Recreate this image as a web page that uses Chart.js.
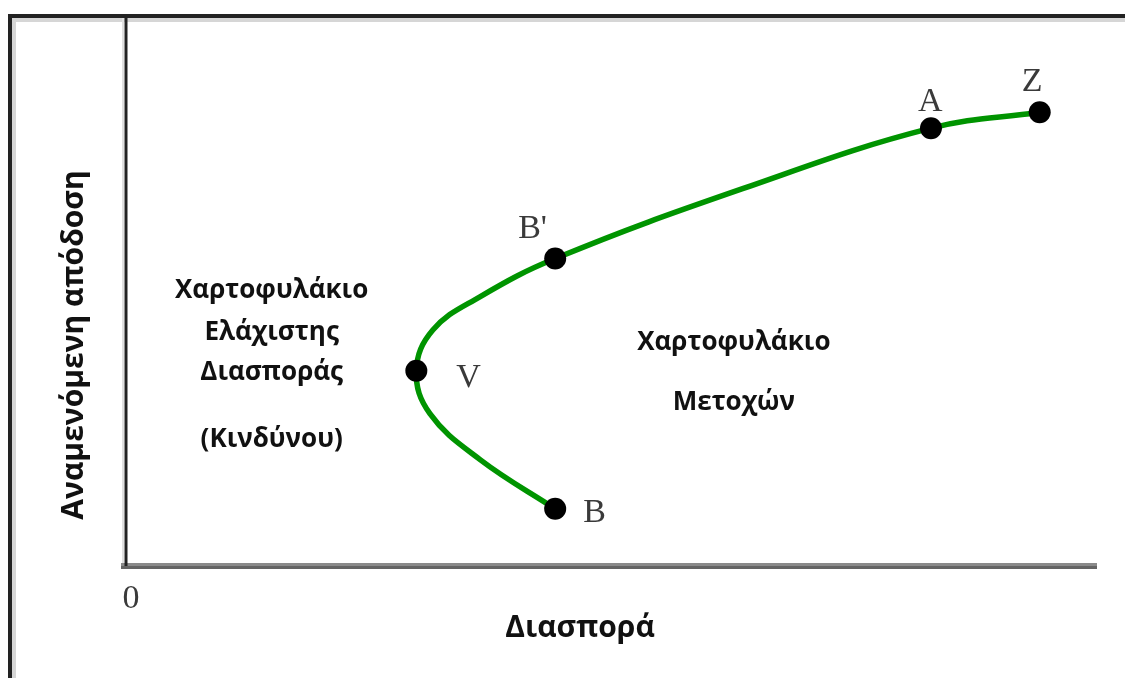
<!DOCTYPE html>
<html>
<head>
<meta charset="utf-8">
<script src="https://cdn.jsdelivr.net/npm/chart.js@4.4.1/dist/chart.umd.min.js"></script>
<style>
  html, body { margin: 0; padding: 0; background: #ffffff; }
  #wrap { width: 1125px; height: 678px; position: relative; }
</style>
</head>
<body>
<div id="wrap"><canvas id="c" width="1125" height="678"></canvas></div>
<script>
// ---- Data (variance on x, expected return on y; arbitrary units) ----
const pointNames   = ['B', 'V', "B'", 'A', 'Z'];
const pointVar     = [44.2, 29.9, 44.2, 82.9, 94.1];
const pointReturn  = [10.4, 35.5, 55.9, 79.6, 82.5];

// readings along the green frontier curve, from B up to Z
const curveVar    = [44.2, 36.5, 31.3, 29.9, 31.6, 36.4, 44.2, 63.5, 82.9, 94.1];
const curveReturn = [10.4, 19.3, 27.7, 35.5, 42.9, 48.9, 55.9, 68.6, 79.6, 82.5];

const xTickLabels = ['0'];
const xTitle = 'Διασπορά';
const yTitle = 'Αναμενόμενη απόδοση';
const leftNote  = ['Χαρτοφυλάκιο', 'Ελάχιστης', 'Διασποράς', '(Κινδύνου)'];
const rightNote = ['Χαρτοφυλάκιο', 'Μετοχών'];

// ---- Presentation settings ----
const leftNoteAnchor  = { x: 15.0, baselines: [48.7, 41.1, 33.8, 21.6] };
const rightNoteAnchor = { x: 62.6, baselines: [39.3, 28.4] };
const labelOffsets = [[28, 13], [40, 16], [-37, -21], [-13, -17], [-18, -21]];

const curvePoints  = curveVar.map((v, i) => ({ x: v, y: curveReturn[i] }));
const markerPoints = pointVar.map((v, i) => ({ x: v, y: pointReturn[i] }));

const decorPlugin = {
  id: 'decor',
  beforeDatasetsDraw(chart) {
    const ctx = chart.ctx;
    const ca = chart.chartArea;
    ctx.save();
    // outer frame (left and top)
    ctx.fillStyle = '#d6d6d6';
    ctx.fillRect(12, 18, 4, 660);
    ctx.fillRect(12, 18, 1113, 4);
    ctx.fillStyle = '#222222';
    ctx.fillRect(8, 14, 4, 664);
    ctx.fillRect(8, 14, 1117, 4);
    // x axis (gray, thick)
    ctx.fillStyle = '#8a8a8a';
    ctx.fillRect(ca.left - 5, ca.bottom - 3, ca.right - ca.left + 5, 3);
    ctx.fillStyle = '#646464';
    ctx.fillRect(ca.left - 5, ca.bottom, ca.right - ca.left + 5, 3);
    // y axis (dark)
    ctx.fillStyle = '#e0e0e0';
    ctx.fillRect(ca.left - 4, 18, 2, ca.bottom - 21);
    ctx.fillStyle = '#222222';
    ctx.fillRect(ca.left - 1.5, 14, 3, ca.bottom - 14);
    ctx.restore();
  },
  afterDraw(chart) {
    const ctx = chart.ctx;
    const xs = chart.scales.x, ys = chart.scales.y;
    ctx.save();
    // point labels (serif)
    ctx.fillStyle = '#3a3a3a';
    ctx.font = '34px "Liberation Serif", "DejaVu Serif", serif';
    ctx.textAlign = 'left';
    ctx.textBaseline = 'alphabetic';
    pointNames.forEach((name, i) => {
      const px = xs.getPixelForValue(pointVar[i]);
      const py = ys.getPixelForValue(pointReturn[i]);
      ctx.fillText(name, px + labelOffsets[i][0], py + labelOffsets[i][1]);
    });
    // x tick label "0"
    ctx.textAlign = 'center';
    xTickLabels.forEach((t) => {
      ctx.fillText(t, xs.getPixelForValue(Number(t)) + 5, chart.chartArea.bottom + 42);
    });
    // annotations
    ctx.fillStyle = '#111111';
    ctx.font = 'bold 26px "Open Sans", "Noto Sans", sans-serif';
    ctx.textAlign = 'center';
    leftNote.forEach((t, i) => {
      ctx.fillText(t, xs.getPixelForValue(leftNoteAnchor.x), ys.getPixelForValue(leftNoteAnchor.baselines[i]));
    });
    rightNote.forEach((t, i) => {
      ctx.fillText(t, xs.getPixelForValue(rightNoteAnchor.x), ys.getPixelForValue(rightNoteAnchor.baselines[i]));
    });
    // axis titles
    ctx.font = 'bold 30px "Open Sans", "Noto Sans", sans-serif';
    ctx.fillText(xTitle, 580, 637);
    ctx.translate(83, 345);
    ctx.rotate(-Math.PI / 2);
    ctx.fillText(yTitle, 0, 0);
    ctx.restore();
  }
};

new Chart(document.getElementById('c'), {
  type: 'scatter',
  data: {
    datasets: [
      {
        label: 'portfolios',
        data: markerPoints,
        pointRadius: 11,
        pointHoverRadius: 11,
        pointBackgroundColor: '#000000',
        pointBorderColor: '#000000',
        pointBorderWidth: 0,
        showLine: false
      },
      {
        label: 'frontier',
        data: curvePoints,
        showLine: true,
        borderColor: '#009400',
        borderWidth: 5.5,
        pointRadius: 0,
        tension: 0.4,
        fill: false
      }
    ]
  },
  options: {
    responsive: false,
    animation: false,
    events: [],
    layout: { padding: { left: 126, right: 28, top: 16, bottom: 112 } },
    plugins: { legend: { display: false }, tooltip: { enabled: false } },
    scales: {
      x: { type: 'linear', min: 0, max: 100, display: false },
      y: { type: 'linear', min: 0, max: 100, display: false }
    }
  },
  plugins: [decorPlugin]
});
</script>
</body>
</html>
